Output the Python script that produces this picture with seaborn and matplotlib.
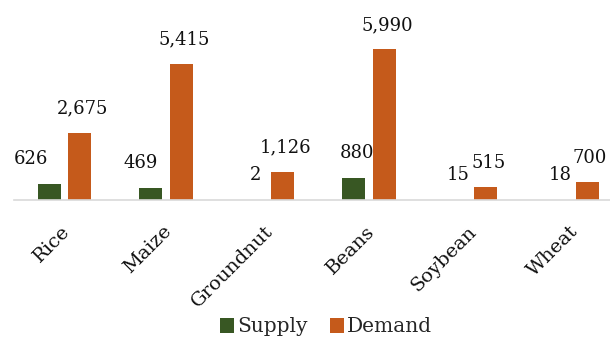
import matplotlib
matplotlib.use("Agg")
import matplotlib.pyplot as plt
import matplotlib.transforms as mtransforms
import seaborn as sns
import pandas as pd
from matplotlib.patches import Patch

categories = ["Rice", "Maize", "Groundnut", "Beans", "Soybean", "Wheat"]
supply = [626, 469, 2, 880, 15, 18]
demand = [2675, 5415, 1126, 5990, 515, 700]
series = ["Supply", "Demand"]
colors = {"Supply": "#385723", "Demand": "#C55A1B"}

# label placement offsets (pixels) for the supply value labels
supply_label_dx = [-18, -10, 3, 3, 3, 3]

df = pd.DataFrame({
    "crop": categories * 2,
    "series": ["Supply"] * len(categories) + ["Demand"] * len(categories),
    "value": supply + demand,
})

sns.set_style("white")
plt.rcParams["font.family"] = ["DejaVu Serif"]

fig = plt.figure(figsize=(6.1, 3.38), dpi=100)
ax = fig.add_axes([13.75 / 610, 138 / 338, 609 / 610, 190 / 338])

sns.barplot(data=df, x="crop", y="value", hue="series", hue_order=series,
            order=categories, palette=colors, width=0.594, gap=0.235,
            legend=False, ax=ax, saturation=1, edgecolor="none")

ax.set_xlim(-0.5, len(categories) - 0.5)
ax.set_ylim(0, 7540)
ax.set_xlabel("")
ax.set_ylabel("")
ax.set_yticks([])
for s in ["top", "right", "left"]:
    ax.spines[s].set_visible(False)
ax.spines["bottom"].set_color("#d9d9d9")
ax.spines["bottom"].set_linewidth(1.2)
ax.tick_params(axis="x", length=0, pad=2)
shift = mtransforms.ScaledTranslation(3 / 100, -26 / 100, fig.dpi_scale_trans)
for lbl in ax.get_xticklabels():
    lbl.set_rotation(45)
    lbl.set_ha("right")
    lbl.set_va("center")
    lbl.set_rotation_mode("anchor")
    lbl.set_fontsize(14)
    lbl.set_color("#111111")
    lbl.set_transform(lbl.get_transform() + shift)

# data labels
sup_bars = ax.containers[0]
dem_bars = ax.containers[1]
for bar, v, dx in zip(sup_bars, supply, supply_label_dx):
    x = bar.get_x() + bar.get_width() / 2
    ax.annotate(f"{v:,}", (x, bar.get_height()), xytext=(dx, 25),
                textcoords="offset pixels", ha="center", va="center",
                fontsize=13, color="#111111")
for bar, v in zip(dem_bars, demand):
    x = bar.get_x() + bar.get_width() / 2
    ax.annotate(f"{v:,}", (x, bar.get_height()), xytext=(3, 24),
                textcoords="offset pixels", ha="center", va="center",
                fontsize=13, color="#111111")

handles = [Patch(facecolor=colors[s], edgecolor="none", label=s) for s in series]
fig.legend(handles=handles, loc="center", bbox_to_anchor=(326 / 610, 1 - 327 / 338),
           ncol=2, frameon=False, fontsize=14.5, handlelength=0.7, handleheight=0.7,
           handletextpad=0.15, columnspacing=1.1)

fig.savefig("out.png", dpi=100)
